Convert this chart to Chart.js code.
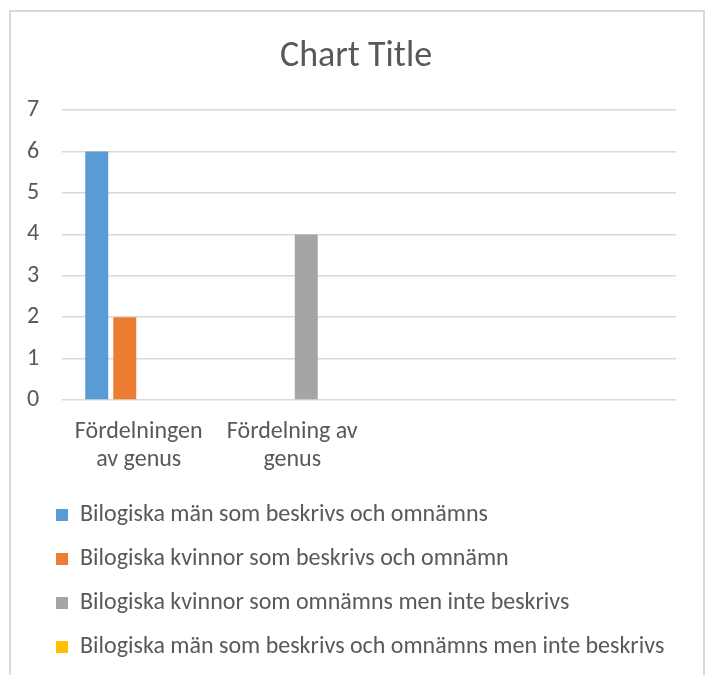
<!DOCTYPE html>
<html>
<head>
<meta charset="utf-8">
<script src="https://cdn.jsdelivr.net/npm/chart.js@4"></script>
<style>
  html, body { margin: 0; padding: 0; background: #fff; overflow: hidden; }
  #wrap { position: relative; width: 708px; height: 675px; }
  #frame { position: absolute; left: 9px; top: 10px; width: 696px; height: 700px; border: 2px solid #d9d9d9; box-sizing: border-box; }
  #chart { position: absolute; left: 0; top: 0; }
</style>
</head>
<body>
<div id="wrap">
  <div id="frame"></div>
  <canvas id="chart" width="708" height="675"></canvas>
</div>
<script>
// Kategorier (två tomma platser till höger)
const categories = [['Fördelningen', 'av genus'], ['Fördelning av', 'genus'], '', ''];

// Serier
const seriesNames = [
  'Bilogiska män som beskrivs och omnämns',
  'Bilogiska kvinnor som beskrivs och omnämn',
  'Bilogiska kvinnor som omnämns men inte beskrivs',
  'Bilogiska män som beskrivs och omnämns men inte beskrivs'
];
const menDescribed = [6, 0, 0, 0];
const womenDescribed = [2, 0, 0, 0];
const womenMentioned = [0, 4, 0, 0];
const menMentioned = [0, 0, 0, 0];
const seriesColors = ['#5b9bd5', '#ed7d31', '#a5a5a5', '#ffc000'];

const yTicks = [0, 1, 2, 3, 4, 5, 6, 7];

const FONT = 'Carlito, Lato, sans-serif';
const TEXT = '#595959';
const GRID = '#d9d9d9';

const seriesValues = [menDescribed, womenDescribed, womenMentioned, menMentioned];
const datasets = seriesValues.map((vals, i) => ({
  label: seriesNames[i],
  data: vals,
  backgroundColor: seriesColors[i],
  borderWidth: 0,
  categoryPercentage: 0.73,
  barPercentage: 0.82
}));

const ctx = document.getElementById('chart').getContext('2d');
new Chart(ctx, {
  type: 'bar',
  data: { labels: categories, datasets: datasets },
  options: {
    responsive: false,
    animation: false,
    layout: { padding: { left: 36, right: 32, top: 0, bottom: 6 } },
    plugins: {
      title: {
        display: true,
        text: 'Chart Title',
        color: TEXT,
        font: { family: FONT, size: 36, weight: 'normal', lineHeight: 1.2 },
        padding: { top: 35, bottom: 32 }
      },
      legend: {
        position: 'bottom',
        align: 'start',
        labels: {
          color: TEXT,
          font: { family: FONT, size: 24 },
          boxWidth: 12,
          boxHeight: 12,
          padding: 20
        }
      },
      tooltip: { enabled: false }
    },
    scales: {
      x: {
        grid: { display: false, drawTicks: false },
        border: { display: false },
        ticks: {
          color: TEXT,
          font: { family: FONT, size: 24, lineHeight: 1.17 },
          padding: 18,
          maxRotation: 0,
          autoSkip: false
        },
        afterFit: (axis) => { axis.height = 83; }
      },
      y: {
        min: 0,
        max: 7,
        afterBuildTicks: (axis) => { axis.ticks = yTicks.map(v => ({ value: v })); },
        grid: { color: GRID, lineWidth: 1.5, drawTicks: false },
        border: { display: false },
        ticks: {
          color: TEXT,
          font: { family: FONT, size: 24 },
          mirror: true,
          padding: -35
        },
        afterFit: (axis) => { axis.width = 26; }
      }
    }
  }
});
</script>
</body>
</html>
